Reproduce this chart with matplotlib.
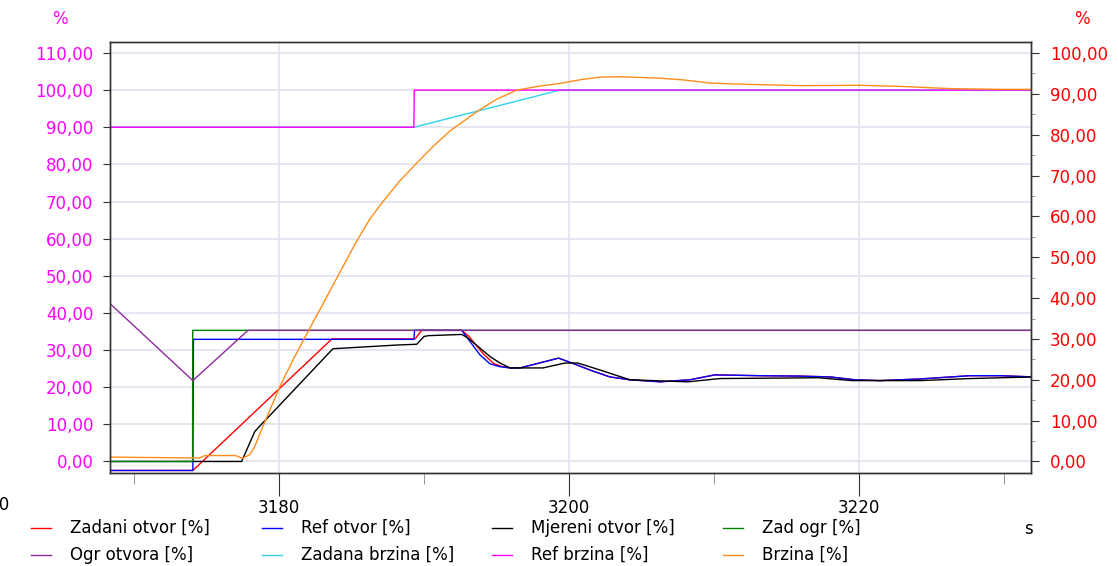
import matplotlib
matplotlib.use('Agg')
import matplotlib.pyplot as plt
from matplotlib.lines import Line2D
from matplotlib.ticker import MultipleLocator, FuncFormatter

# %% Data (time in s, values in %)
# opening series, right axis
t_zad_otvor = [3168.0, 3174.06, 3183.65, 3189.38, 3189.84, 3192.6, 3193.1, 3194.1, 3194.8,
               3195.4, 3195.93, 3196.62, 3199.28, 3200.2, 3201.44, 3202.82, 3204.2, 3206.27,
               3208.34, 3210.06, 3213.17, 3215.93, 3218.0, 3219.72, 3221.44, 3224.2, 3227.65,
               3229.72, 3232.0]
zad_otvor = [-2.2, -2.2, 30.0, 30.0, 32.1, 32.1, 30.6, 26.3, 24.0, 23.2, 22.9, 22.9, 25.3,
             24.1, 22.4, 20.7, 20.0, 19.5, 20.0, 21.2, 21.0, 20.9, 20.7, 20.0, 19.8, 20.2,
             21.0, 21.0, 20.7]

t_ref_otvor = [3168.0, 3174.06, 3174.1, 3189.3, 3189.35, 3192.6, 3192.83, 3193.86, 3194.55,
               3195.24, 3195.93, 3196.62, 3199.28, 3200.2, 3201.44, 3202.82, 3204.2, 3206.27,
               3208.34, 3210.06, 3213.17, 3215.93, 3218.0, 3219.72, 3221.44, 3224.2, 3227.65,
               3229.72, 3232.0]
ref_otvor = [-2.2, -2.2, 29.9, 29.9, 32.1, 32.1, 31.0, 26.1, 23.9, 23.2, 22.9, 22.9, 25.3,
             24.1, 22.4, 20.7, 20.0, 19.5, 20.0, 21.2, 21.0, 20.9, 20.7, 20.0, 19.8, 20.2,
             21.0, 21.0, 20.7]

t_mj_otvor = [3168.0, 3177.42, 3178.34, 3183.72, 3188.11, 3189.5, 3190.0, 3190.3, 3192.6,
              3193.0, 3194.55, 3195.24, 3195.93, 3198.2, 3199.72, 3200.61, 3202.13, 3204.2,
              3208.2, 3210.41, 3217.2, 3219.5, 3224.2, 3227.65, 3232.0]
mj_otvor = [0.0, 0.0, 7.4, 27.6, 28.5, 28.7, 30.6, 30.8, 31.1, 30.3, 25.7, 24.1, 22.9, 22.9,
            24.1, 24.1, 22.4, 20.0, 19.5, 20.3, 20.5, 19.8, 19.8, 20.3, 20.7]

t_zad_ogr = [3168.0, 3174.04, 3174.05, 3232.0]
zad_ogr = [0.0, 0.0, 32.1, 32.1]

t_ogr_otvora = [3168.3, 3174.06, 3177.86, 3232.0]
ogr_otvora = [38.8, 19.8, 32.1, 32.1]

# speed series, left axis
t_zad_brzina = [3168.0, 3189.31, 3199.38, 3232.0]
zad_brzina = [90.0, 90.0, 100.0, 100.0]

t_ref_brzina = [3168.0, 3189.3, 3189.33, 3232.0]
ref_brzina = [90.0, 90.0, 100.0, 100.0]

t_brzina = [3168.0, 3174.0, 3174.5, 3174.9, 3177.0, 3177.5, 3178.0, 3178.3, 3178.8, 3180.06,
            3181.0, 3182.0, 3183.0, 3184.0, 3185.35, 3186.27, 3187.17, 3188.34, 3189.49,
            3190.62, 3191.79, 3193.65, 3195.03, 3196.41, 3198.0, 3199.38, 3200.8, 3202.13,
            3203.51, 3206.27, 3208.0, 3209.72, 3211.79, 3215.93, 3220.06, 3222.82, 3226.27,
            3229.72, 3232.0]
brzina = [1.2, 0.95, 0.95, 1.6, 1.6, 0.85, 1.9, 3.8, 8.6, 20.2,
          27.6, 35.0, 42.2, 49.5, 59.3, 65.3, 70.0, 75.6, 80.3,
          84.8, 89.0, 94.2, 97.6, 100.0, 101.1, 101.8, 102.8, 103.5,
          103.6, 103.2, 102.7, 101.9, 101.6, 101.2, 101.3, 101.0, 100.4,
          100.2, 100.2]

labels = ['Zadani otvor [%]', 'Ref otvor [%]', 'Mjereni otvor [%]', 'Zad ogr [%]',
          'Ogr otvora [%]', 'Zadana brzina [%]', 'Ref brzina [%]', 'Brzina [%]']
colors = ['#ff0000', '#0000ff', '#000000', '#008000',
          '#8e2a9e', '#33d1f0', '#ff00ff', '#ff8c1a']

# right axis reads left / 1.1
scale = 1.1

# %% Plot
fig = plt.figure(figsize=(11.18, 5.66), dpi=100)
ax = fig.add_axes([110 / 1118, 1 - 473 / 566, 921 / 1118, 431 / 566])

series = [(t_zad_otvor, zad_otvor, True), (t_ref_otvor, ref_otvor, True),
          (t_mj_otvor, mj_otvor, True), (t_zad_ogr, zad_ogr, True),
          (t_ogr_otvora, ogr_otvora, True), (t_zad_brzina, zad_brzina, False),
          (t_ref_brzina, ref_brzina, False), (t_brzina, brzina, False)]
for (t, v, right), c in zip(series, colors):
    vals = [x * scale for x in v] if right else v
    ax.plot(t, vals, color=c, lw=1.0)

ax.set_xlim(3168.345, 3231.86)
ax.set_ylim(-3.1, 112.95)
ax.xaxis.set_major_locator(MultipleLocator(20))
ax.xaxis.set_minor_locator(MultipleLocator(10))
ax.yaxis.set_major_locator(MultipleLocator(10))

comma = FuncFormatter(lambda v, p: ('%.2f' % v).replace('.', ','))
ax.yaxis.set_major_formatter(comma)
ax.xaxis.set_major_formatter(FuncFormatter(lambda v, p: '%d' % v))

ax.grid(True, which='major', color='#e2e2f0', lw=1.2)
ax.set_axisbelow(True)

ax.tick_params(axis='y', labelcolor='#ff00ff', labelsize=12, length=5, pad=7, color='#333333')
ax.tick_params(axis='x', which='major', labelsize=12, length=16.5, pad=2, color='#333333')
ax.tick_params(axis='x', which='minor', length=8, color='#888888')

ax2 = ax.twinx()
lo, hi = ax.get_ylim()
ax2.set_ylim(lo / scale, hi / scale)
ax2.yaxis.set_major_locator(MultipleLocator(10))
ax2.yaxis.set_minor_locator(MultipleLocator(5))
ax2.yaxis.set_major_formatter(comma)
ax2.tick_params(axis='y', which='major', labelcolor='#ff0000', labelsize=12, length=5.5,
                pad=8, color='#333333')
ax2.tick_params(axis='y', which='minor', length=3, color='#888888')

for a in (ax, ax2):
    for s in a.spines.values():
        s.set_color('#333333')
        s.set_linewidth(1.0)

fig.text(60 / 1118, 1 - 19 / 566, '%', color='#ff00ff', fontsize=12, ha='center', va='center')
fig.text(1082 / 1118, 1 - 19 / 566, '%', color='#ff0000', fontsize=12, ha='center', va='center')
# cut-off tick label at the far left, as in the source
fig.text(-11 / 1118, 1 - 505 / 566, '3160', fontsize=12, ha='center', va='center')
fig.text(1028 / 1118, 1 - 529 / 566, 's', fontsize=12, ha='center', va='center')

# legend, 4 columns x 2 rows
for i, (lab, c) in enumerate(zip(labels, colors)):
    col, row = i % 4, i // 4
    x0 = 31 + 230.7 * col
    y0 = 1 - (528 + 27 * row) / 566
    fig.add_artist(Line2D([x0 / 1118, (x0 + 20) / 1118], [y0, y0], color=c, lw=1.0))
    fig.text((x0 + 39) / 1118, y0, lab, fontsize=12, ha='left', va='center')

plt.savefig('out.png')
